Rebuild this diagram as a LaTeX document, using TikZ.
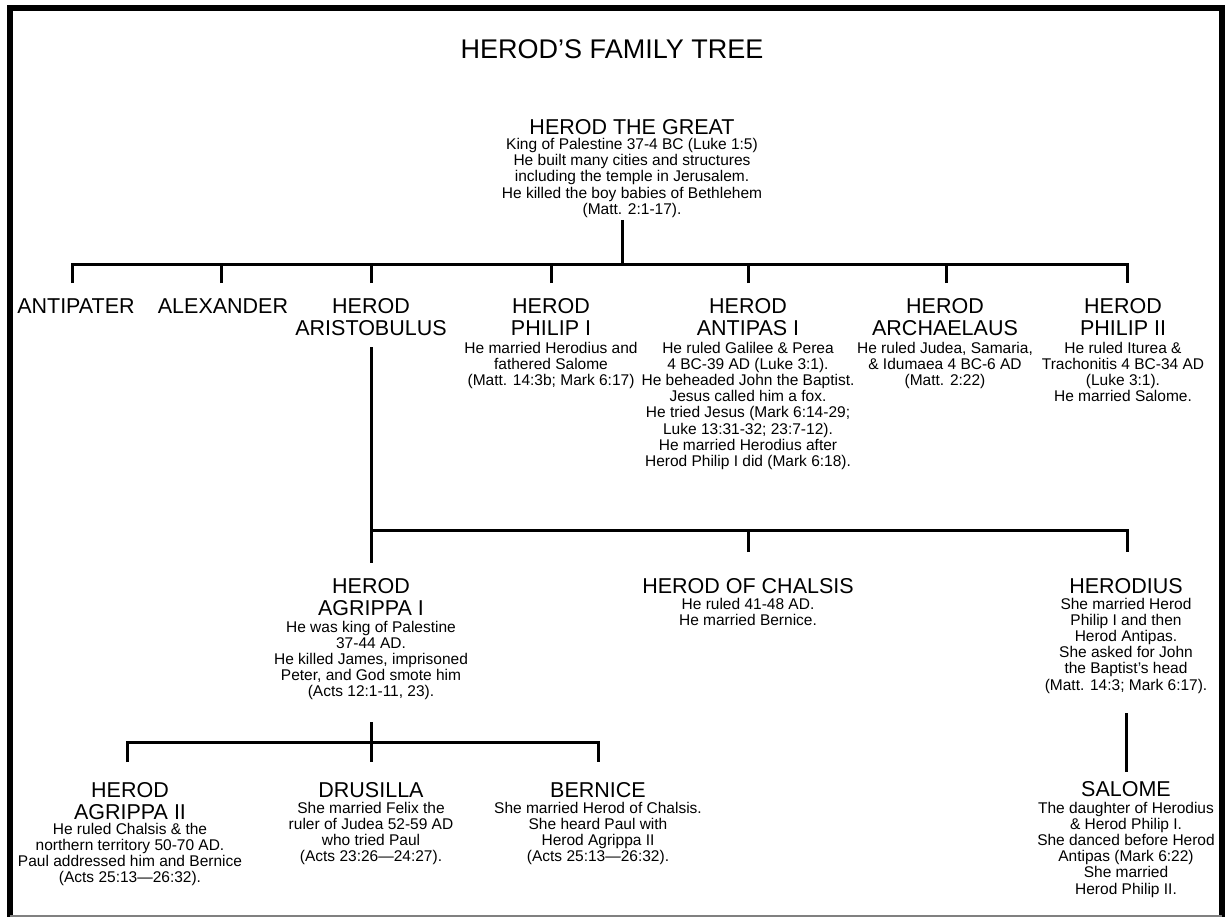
\documentclass[tikz,border=0pt]{standalone}
\usepackage{fontspec}
\setmainfont{Liberation Sans}
\newcommand{\stk}[3]{\vtop{\fontsize{#1}{#2}\selectfont\lineskiplimit=-100pt\relax\halign{\hfil##\hfil\cr#3\crcr}}}
\newcommand{\nm}[1]{\stk{21.5pt}{22pt}{#1}}
\newcommand{\ds}[1]{\stk{15.5pt}{16.2pt}{#1}}
\tikzset{
  lbl/.style={anchor=base, inner sep=0pt, outer sep=0pt},
  link/.style={line width=3pt},
  frame/.style={line width=6pt},
}
\begin{document}
\begin{tikzpicture}[x=1pt,y=-1pt]
\useasboundingbox (0,0) rectangle (1225,917);
% frame
\draw[frame] (10,917) -- (10,8) -- (1222,8) -- (1222,917);
\draw[gray, line width=1.5pt] (10,915.8) -- (1222,915.8);

% title
\node[lbl] (title) at (612,59) {\stk{27pt}{30pt}{HEROD’S FAMILY TREE}};

% Herod the Great
\node[lbl] (hg) at (632,135) {\nm{HEROD THE GREAT}};
\node[lbl] (hgd) at (632,149.5) {\ds{King of Palestine 37-4 BC (Luke 1:5)\cr
He built many cities and structures\cr
including the temple in Jerusalem.\cr
He killed the boy babies of Bethlehem\cr
(Matt. 2:1-17).}};

% row 1
\node[lbl] (antipater) at (76,313) {\nm{ANTIPATER}};
\node[lbl] (alexander) at (223,313) {\nm{ALEXANDER}};
\node[lbl] (aristob) at (371,313) {\nm{HEROD\cr ARISTOBULUS}};
\node[lbl] (philip1) at (551,313) {\nm{HEROD\cr PHILIP I}};
\node[lbl] (philip1d) at (551,353) {\ds{He married Herodius and\cr
fathered Salome\cr
(Matt. 14:3b; Mark 6:17)}};
\node[lbl] (antipas) at (748,313) {\nm{HEROD\cr ANTIPAS I}};
\node[lbl] (antipasd) at (748,353) {\ds{He ruled Galilee \& Perea\cr
4 BC-39 AD (Luke 3:1).\cr
He beheaded John the Baptist.\cr
Jesus called him a fox.\cr
He tried Jesus (Mark 6:14-29;\cr
Luke 13:31-32; 23:7-12).\cr
He married Herodius after\cr
Herod Philip I did (Mark 6:18).}};
\node[lbl] (archel) at (945,313) {\nm{HEROD\cr ARCHAELAUS}};
\node[lbl] (archeld) at (945,353) {\ds{He ruled Judea, Samaria,\cr
\& Idumaea 4 BC-6 AD\cr
(Matt. 2:22)}};
\node[lbl] (philip2) at (1123,313) {\nm{HEROD\cr PHILIP II}};
\node[lbl] (philip2d) at (1123,353) {\ds{He ruled Iturea \&\cr
Trachonitis 4 BC-34 AD\cr
(Luke 3:1).\cr
He married Salome.}};

% row 2
\node[lbl] (agrippa1) at (371,593) {\nm{HEROD\cr AGRIPPA I}};
\node[lbl] (agrippa1d) at (371,632) {\ds{He was king of Palestine\cr
37-44 AD.\cr
He killed James, imprisoned\cr
Peter, and God smote him\cr
(Acts 12:1-11, 23).}};
\node[lbl] (chalsis) at (748,593) {\nm{HEROD OF CHALSIS}};
\node[lbl] (chalsisd) at (748,609) {\ds{He ruled 41-48 AD.\cr
He married Bernice.}};
\node[lbl] (herodius) at (1126,593) {\nm{HERODIUS}};
\node[lbl] (herodiusd) at (1126,609) {\ds{She married Herod\cr
Philip I and then\cr
Herod Antipas.\cr
She asked for John\cr
the Baptist’s head\cr
(Matt. 14:3; Mark 6:17).}};

% row 3
\node[lbl] (agrippa2) at (130,797) {\nm{HEROD\cr AGRIPPA II}};
\node[lbl] (agrippa2d) at (130,834) {\ds{He ruled Chalsis \& the\cr
northern territory 50-70 AD.\cr
Paul addressed him and Bernice\cr
(Acts 25:13—26:32).}};
\node[lbl] (drusilla) at (371,797) {\nm{DRUSILLA}};
\node[lbl] (drusillad) at (371,813) {\ds{She married Felix the\cr
ruler of Judea 52-59 AD\cr
who tried Paul\cr
(Acts 23:26—24:27).}};
\node[lbl] (bernice) at (598,797) {\nm{BERNICE}};
\node[lbl] (berniced) at (598,813) {\ds{She married Herod of Chalsis.\cr
She heard Paul with\cr
Herod Agrippa II\cr
(Acts 25:13—26:32).}};
\node[lbl] (salome) at (1126,796) {\nm{SALOME}};
\node[lbl] (salomed) at (1126,813) {\ds{The daughter of Herodius\cr
\& Herod Philip I.\cr
She danced before Herod\cr
Antipas (Mark 6:22)\cr
She married\cr
Herod Philip II.}};

% connector coordinates
\coordinate (hgB) at (622,220);
\coordinate (bar1) at (622,264);
\coordinate (t1a) at (72,283);
\coordinate (t1b) at (221,283);
\coordinate (t1c) at (371,283);
\coordinate (t1d) at (551,283);
\coordinate (t1e) at (748,283);
\coordinate (t1f) at (946,283);
\coordinate (t1g) at (1127,283);
\coordinate (arB) at (371,347);
\coordinate (a1T) at (371,563);
\coordinate (t2b) at (748,552);
\coordinate (t2c) at (1127,552);
\coordinate (a1B) at (371,722);
\coordinate (a3T) at (371,762);
\coordinate (t3a) at (127,762);
\coordinate (t3c) at (598,762);
\coordinate (hdB) at (1126,713);
\coordinate (slT) at (1126,772);

% connectors
\draw[link] (hgB) -- (bar1);
\draw[link] (t1a) -- (t1a |- bar1) -- (t1g |- bar1) -- (t1g);
\foreach \t in {t1b,t1c,t1d,t1e,t1f} \draw[link] (\t) -- (\t |- bar1);
\draw[link] (arB) -- (a1T);
\draw[link] (371,530) -- (t2c |- 0,530) -- (t2c);
\draw[link] (t2b) -- (t2b |- 0,530);
\draw[link] (a1B) -- (a3T);
\draw[link] (t3a) -- (t3a |- 0,742) -- (t3c |- 0,742) -- (t3c);
\draw[link] (hdB) -- (slT);
\end{tikzpicture}
\end{document}
